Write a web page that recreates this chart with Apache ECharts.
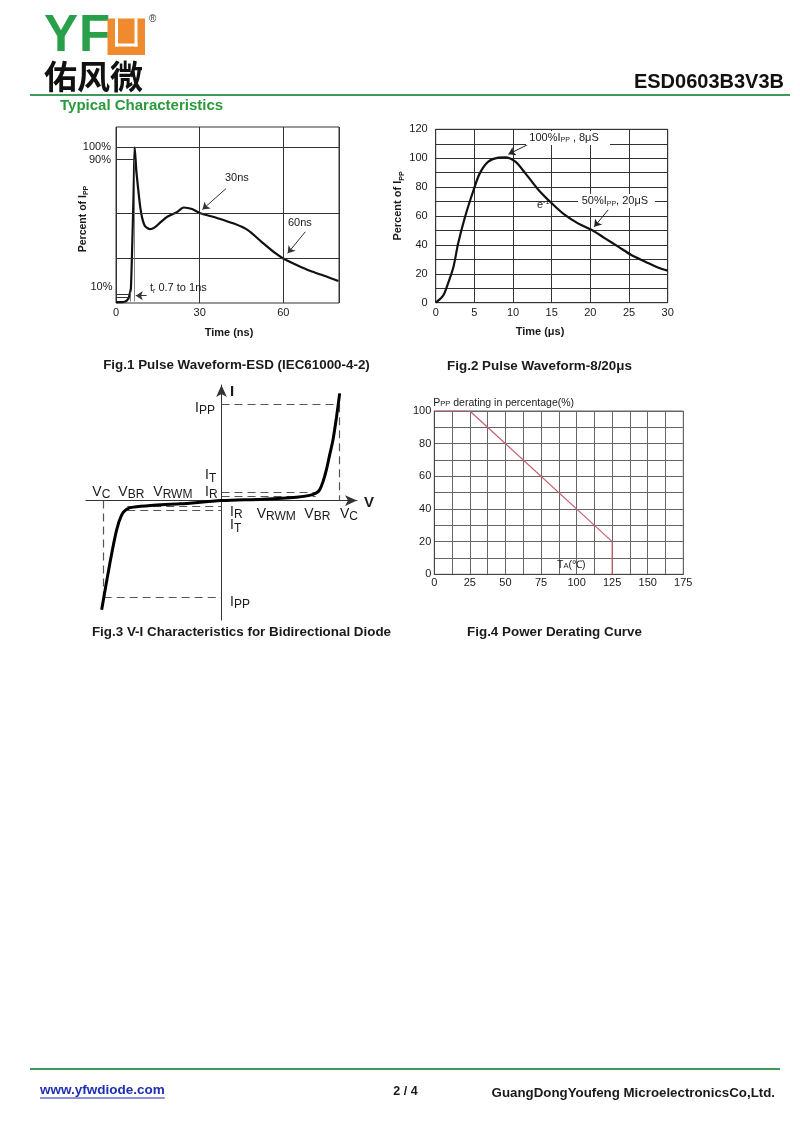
<!DOCTYPE html>
<html><head><meta charset="utf-8">
<script src="https://cdn.jsdelivr.net/npm/echarts@6/dist/echarts.min.js"></script>
<style>html,body{margin:0;padding:0;background:#fff}#c{width:800px;height:1131px}</style>
</head><body><div id="c"></div>
<script>
// ---------------- DATA ----------------
// Fig.1 ESD pulse waveform (time ns, percent of Ipp)
const fig1Time    = [0, 3.1, 4.5, 5.0, 5.35, 5.97, 6.37, 6.7, 7.3, 8.0, 8.7, 9.4, 10.4, 12.2, 14.0, 16.0, 18.4, 21.8, 24.3, 27.3, 30, 36, 42.3, 47.3, 52.2, 57.3, 60, 64.8, 69.8, 74.7, 79.8];
const fig1Percent = [0.5, 0.8, 3, 6.4, 9.4, 46.8, 75.6, 100, 85, 72.4, 61.5, 54.5, 49.4, 47.4, 48.7, 51.9, 55.4, 58.3, 61.3, 60.3, 57.8, 54.7, 51, 46.8, 39.3, 31.8, 28.6, 24.4, 20.5, 17.5, 14.1];
const fig1XTicks  = [0, 30, 60];
const fig1GridY   = [100, 57.5, 28.6];
// Fig.2 8/20us waveform (time us, percent of Ipp)
const fig2Time    = [0, 1.0, 1.6, 2.3, 2.9, 3.8, 4.9, 5.7, 6.8, 8.1, 9.0, 10.3, 11.6, 13.3, 15, 16.7, 18.4, 20.2, 21.9, 23.6, 25.3, 27.1, 28.8, 30];
const fig2Percent = [0, 5.3, 13.4, 24.9, 41, 59.5, 78, 89.5, 97.6, 100.4, 100.6, 97.6, 89.5, 78, 68.8, 60.7, 54.9, 50.3, 44.5, 38.8, 33, 28.4, 24.2, 22.2];
// Fig.3 V-I characteristic (normalised: Vc = 1, Ipp = 1)
const fig3Voltage = [-1.017, -0.947, -0.890, -0.847, -0.805, -0.749, -0.6, -0.353, 0, 0.353, 0.636, 0.748, 0.805, 0.833, 0.861, 0.890, 0.918, 0.946, 0.975, 1.003];
const fig3Current = [-1.133, -0.649, -0.304, -0.148, -0.089, -0.068, -0.05, -0.034, 0, 0.015, 0.035, 0.054, 0.08, 0.111, 0.194, 0.318, 0.474, 0.629, 0.857, 1.113];
const fig3Vc = 1, fig3Ipp = 1, fig3Vbr = 0.8;
const fig3ItIr = [0.082, 0.048];
const fig3ItIrNeg = [-0.063, -0.097];
// Fig.4 power derating (Ta degC, percent)
const fig4Temp     = [0, 25, 125, 125];
const fig4Derating = [100, 100, 20, 0];

// ---------------- HELPERS ----------------
const FONT = '"Liberation Sans", Arial, Helvetica, sans-serif';
const mctx = document.createElement('canvas').getContext('2d');
function tw(t, s, b) { mctx.font = (b ? 'bold ' : '') + s + 'px ' + FONT; return mctx.measureText(t).width; }
// parts: [text, size, dy, bold, color]
function richText(x, baseline, parts, anchor, z) {
  let total = 0; parts.forEach(p => total += tw(p[0], p[1], p[3]));
  let cx = anchor === 'right' ? x - total : anchor === 'center' ? x - total / 2 : x;
  const els = [];
  parts.forEach(p => {
    const [t, s, dy = 0, b = false, col = '#1a1a1a'] = p;
    els.push({ type: 'text', x: cx, y: baseline + dy - 0.3465 * s, z: z || 50,
      style: { text: t, fontSize: s, fontFamily: FONT, fontWeight: b ? 'bold' : 'normal', fill: col, align: 'left', verticalAlign: 'middle' } });
    cx += tw(t, s, b);
  });
  return els;
}
function plain(x, y, t, s, opt) {
  opt = opt || {};
  return { type: 'text', x: x, y: y, z: 50, style: { text: t, fontSize: s, fontFamily: opt.family || FONT,
    fontWeight: opt.bold ? 'bold' : 'normal', fill: opt.color || '#1a1a1a', align: opt.align || 'left', verticalAlign: 'middle' } };
}
function rotated(x, y, parts) {
  return { type: 'group', x: x, y: y, rotation: Math.PI / 2, z: 50, children: richText(0, 3.7, parts, 'center') };
}
function hline(x1, y1, x2, y2, color, w) {
  return { type: 'line', z: 50, shape: { x1, y1, x2, y2 }, style: { stroke: color, lineWidth: w } };
}
const zip = (a, b) => a.map((v, i) => [v, b[i]]);

const arrowPair = (from, to) => [{ coord: from, symbol: 'none' }, { coord: to, symbol: 'arrow', symbolSize: 7 }];
const gridLineStyle = { color: '#333', width: 1, type: 'solid' };
const lbl = (txt) => ({ show: true, position: 'start', distance: 5, formatter: txt, fontSize: 11, color: '#1a1a1a', fontFamily: FONT });

// ---------------- GRAPHICS (text / logo) ----------------
const G = [];
// logo
G.push(plain(44, 37, 'Y', 51, { bold: true, color: '#28a04a' }));
G.push(plain(79, 37, 'F', 51, { bold: true, color: '#28a04a' }));
G.push({ type: 'rect', z: 50, shape: { x: 107.5, y: 18.5, width: 37.5, height: 36.5 }, style: { fill: '#ef8a2e' } });
G.push({ type: 'rect', z: 51, shape: { x: 115, y: 18.5, width: 3, height: 28 }, style: { fill: '#fff' } });
G.push({ type: 'rect', z: 51, shape: { x: 134.5, y: 18.5, width: 3, height: 28 }, style: { fill: '#fff' } });
G.push({ type: 'rect', z: 51, shape: { x: 115, y: 43.5, width: 22.5, height: 3 }, style: { fill: '#fff' } });
G.push(plain(149, 19, '®', 10, { color: '#333' }));
G.push(plain(44, 76, '佑风微', 33, { bold: true, family: '"Noto Sans CJK SC", sans-serif', color: '#111' }));
G.push(hline(30, 95, 790, 95, '#3b9a5c', 2));
G.push(plain(784, 82, 'ESD0603B3V3B', 20, { bold: true, align: 'right', color: '#111' }));
G.push(plain(60, 106, 'Typical Characteristics', 15, { bold: true, color: '#2a9a3c' }));

// Fig.1 texts
G.push(rotated(83, 219, [['Percent of I', 10.5, 0, true], ['PP', 7, 2, true]]));
G.push(plain(229, 333, 'Time (ns)', 11, { bold: true, align: 'center' }));
G.push(...richText(112.5, 291, [['10%', 11]], 'right'));
G.push(...richText(225, 182, [['30ns', 11]]));
G.push(...richText(288, 226.7, [['60ns', 11]]));
G.push(...richText(150, 291.7, [['t', 11], ['r', 7, 1.5], [' 0.7 to 1ns', 11]]));
G.push(plain(236.5, 365, 'Fig.1 Pulse Waveform-ESD (IEC61000-4-2)', 13.4, { bold: true, align: 'center' }));

// Fig.2 texts
G.push(rotated(398.3, 206, [['Percent of I', 11, 0, true], ['PP', 7, 2, true]]));
G.push(plain(540, 332, 'Time (μs)', 11, { bold: true, align: 'center' }));
G.push({ type: 'rect', z: 49, shape: { x: 526, y: 131, width: 84, height: 14 }, style: { fill: '#fff' } });
G.push(...richText(529.3, 141.7, [['100%I', 11], ['PP', 7, 1], [' , 8μS', 11]]));
G.push({ type: 'rect', z: 49, shape: { x: 578, y: 194, width: 77, height: 14 }, style: { fill: '#fff' } });
G.push(...richText(581.7, 205, [['50%I', 11], ['PP', 7, 1], [', 20μS', 11]]));
G.push(...richText(537, 209, [['e', 11], ['-1', 7, -5]]));
G.push(plain(539.5, 366, 'Fig.2 Pulse Waveform-8/20μs', 13.4, { bold: true, align: 'center' }));

// Fig.3 texts
const L = (x, b, m, s, dy) => richText(x, b, [[m, 14], [s, 12, dy === undefined ? 2 : dy]]);
G.push(...L(92.3, 496.7, 'V', 'C'));
G.push(...L(118.3, 496.7, 'V', 'BR'));
G.push(...L(153.3, 496.7, 'V', 'RWM'));
G.push(...L(205, 480, 'I', 'T', 3));
G.push(...L(205, 496.7, 'I', 'R'));
G.push(...L(230, 516.7, 'I', 'R'));
G.push(...L(230, 530, 'I', 'T', 3));
G.push(...L(256.7, 519.3, 'V', 'RWM'));
G.push(...L(304.3, 519.3, 'V', 'BR'));
G.push(...L(340, 519.3, 'V', 'C'));
G.push(...L(195, 413, 'I', 'PP'));
G.push(...L(230, 606.7, 'I', 'PP'));
G.push(plain(230, 392, 'I', 15, { bold: true }));
G.push(plain(364, 503, 'V', 15, { bold: true }));
G.push(plain(241.5, 632, 'Fig.3 V-I Characteristics for Bidirectional Diode', 13.4, { bold: true, align: 'center' }));

// Fig.4 texts
G.push(...richText(433.3, 406.5, [['P', 10.5], ['PP', 7.5], [' derating in percentage(%)', 10.5]]));
G.push(...richText(557, 568.3, [['T', 10.5], ['A', 7.5], ['(℃)', 10.5]]));
G.push(plain(554.5, 632, 'Fig.4 Power Derating Curve', 13.4, { bold: true, align: 'center' }));

// footer
G.push(hline(30, 1069, 780, 1069, '#3b9a5c', 2));
const urlW = tw('www.yfwdiode.com', 13.5, true);
G.push(plain(40, 1090, 'www.yfwdiode.com', 13.5, { bold: true, color: '#1f2fb0' }));
G.push(hline(40, 1098, 40 + urlW, 1098, '#1f2fb0', 1));
G.push(plain(405.5, 1092, '2 / 4', 12.5, { bold: true, align: 'center' }));
G.push(plain(775, 1093, 'GuangDongYoufeng MicroelectronicsCo,Ltd.', 13.3, { bold: true, align: 'right' }));

// ---------------- CHART ----------------
const axisLblStyle = { fontSize: 11, color: '#1a1a1a', fontFamily: FONT };
const option = {
  animation: false,
  backgroundColor: '#fff',
  grid: [
    { left: 116, top: 127, width: 223, height: 176, show: true, borderColor: '#333', borderWidth: 1 },
    { left: 435.7, top: 129.3, width: 232, height: 173.4, show: true, borderColor: '#333', borderWidth: 1 },
    { left: 86, top: 385, width: 271, height: 235, show: false },
    { left: 434.3, top: 411, width: 249, height: 163.3, show: true, borderColor: '#666', borderWidth: 1 }
  ],
  xAxis: [
    { gridIndex: 0, type: 'value', min: 0, max: 80, interval: 30,
      axisLine: { show: false }, axisTick: { show: false },
      splitLine: { show: true, lineStyle: gridLineStyle },
      axisLabel: Object.assign({ margin: 4, formatter: v => fig1XTicks.includes(v) ? String(v) : '' }, axisLblStyle) },
    { gridIndex: 1, type: 'value', min: 0, max: 30, interval: 5,
      axisLine: { show: false }, axisTick: { show: false },
      splitLine: { show: true, lineStyle: gridLineStyle },
      axisLabel: Object.assign({ margin: 5 }, axisLblStyle) },
    { gridIndex: 2, type: 'value', min: -1.15, max: 1.15,
      axisLine: { show: true, onZero: true, symbol: ['none', 'arrow'], symbolSize: [8, 12], lineStyle: { color: '#333', width: 1 } },
      axisTick: { show: false }, axisLabel: { show: false }, splitLine: { show: false } },
    { gridIndex: 3, type: 'value', min: 0, max: 175, interval: 12.5,
      axisLine: { show: true, lineStyle: { color: '#444' } }, axisTick: { show: false },
      splitLine: { show: true, lineStyle: { color: '#666', width: 1 } },
      axisLabel: Object.assign({ margin: 3, formatter: v => v % 25 === 0 ? String(v) : '' }, axisLblStyle) }
  ],
  yAxis: [
    { gridIndex: 0, type: 'value', min: 0, max: 113, show: false },
    { gridIndex: 1, type: 'value', min: 0, max: 120, interval: 10,
      axisLine: { show: false }, axisTick: { show: false },
      splitLine: { show: true, lineStyle: gridLineStyle },
      axisLabel: Object.assign({ margin: 8, formatter: v => v % 20 === 0 ? String(v) : '' }, axisLblStyle) },
    { gridIndex: 2, type: 'value', min: -1.24, max: 1.2,
      axisLine: { show: true, onZero: true, symbol: ['none', 'arrow'], symbolSize: [8, 12], lineStyle: { color: '#333', width: 1 } },
      axisTick: { show: false }, axisLabel: { show: false }, splitLine: { show: false } },
    { gridIndex: 3, type: 'value', min: 0, max: 100, interval: 10,
      axisLine: { show: true, lineStyle: { color: '#444' } }, axisTick: { show: false },
      splitLine: { show: true, lineStyle: { color: '#666', width: 1 } },
      axisLabel: Object.assign({ margin: 3, formatter: v => v % 20 === 0 ? String(v) : '' }, axisLblStyle) }
  ],
  series: [
    { type: 'line', xAxisIndex: 0, yAxisIndex: 0, data: zip(fig1Time, fig1Percent), smooth: 0.25,
      showSymbol: false, lineStyle: { color: '#111', width: 2.2 }, silent: true,
      markLine: { silent: true, symbol: 'none', label: { show: false },
        lineStyle: { color: '#333', width: 1, type: 'solid' },
        data: [
          { yAxis: fig1GridY[0], label: lbl('100%') },
          { yAxis: fig1GridY[1] },
          { yAxis: fig1GridY[2] },
          [{ coord: [0, 92], label: lbl('90%') }, { coord: [6.7, 92] }],
          [{ coord: [6.7, 92], lineStyle: { color: '#666', width: 0.8 } }, { coord: [6.7, 1] }],
          [{ coord: [0, 5.6] }, { coord: [5.2, 5.6] }],
          [{ coord: [0, 3.7] }, { coord: [5.2, 3.7] }],
          [{ coord: [5.0, 7.2], lineStyle: { color: '#666', width: 0.8 } }, { coord: [5.0, 1] }],
          arrowPair([39.5, 73.5], [31, 60]),
          arrowPair([67.9, 45.7], [61.6, 31.9]),
          arrowPair([11, 4.7], [7.1, 4.7])
        ] } },
    { type: 'line', xAxisIndex: 1, yAxisIndex: 1, data: zip(fig2Time, fig2Percent), smooth: 0.3,
      showSymbol: false, lineStyle: { color: '#111', width: 2.2 }, silent: true,
      markLine: { silent: true, symbol: 'none', label: { show: false },
        lineStyle: { color: '#222', width: 1, type: 'solid' },
        data: [ arrowPair([11.97, 109.6], [9.4, 102.7]), arrowPair([22.3, 64.2], [20.5, 52.5]) ] } },
    { type: 'line', xAxisIndex: 2, yAxisIndex: 2, data: zip(fig3Voltage, fig3Current), smooth: 0.3,
      showSymbol: false, lineStyle: { color: '#000', width: 3 }, silent: true, z: 5,
      markLine: { silent: true, symbol: 'none', label: { show: false },
        lineStyle: { color: '#555', width: 1.2, type: [8, 5] },
        data: [
          [{ coord: [0, fig3Ipp] }, { coord: [fig3Vc, fig3Ipp] }],
          [{ coord: [fig3Vc, fig3Ipp] }, { coord: [fig3Vc, 0] }],
          [{ coord: [-fig3Vc, -fig3Ipp] }, { coord: [0, -fig3Ipp] }],
          [{ coord: [-fig3Vc, 0] }, { coord: [-fig3Vc, -fig3Ipp] }],
          [{ coord: [0, fig3ItIr[0]] }, { coord: [fig3Vbr, fig3ItIr[0]] }],
          [{ coord: [0, fig3ItIr[1]] }, { coord: [fig3Vbr, fig3ItIr[1]] }],
          [{ coord: [-fig3Vbr, fig3ItIrNeg[0]] }, { coord: [0, fig3ItIrNeg[0]] }],
          [{ coord: [-fig3Vbr, fig3ItIrNeg[1]] }, { coord: [0, fig3ItIrNeg[1]] }]
        ] } },
    { type: 'line', xAxisIndex: 3, yAxisIndex: 3, data: zip(fig4Temp, fig4Derating),
      showSymbol: false, lineStyle: { color: '#c8606e', width: 1.2 }, silent: true }
  ],
  graphic: { elements: G }
};
const chart = echarts.init(document.getElementById('c'), null, { renderer: 'canvas' });
chart.setOption(option);
</script>
</body></html>
